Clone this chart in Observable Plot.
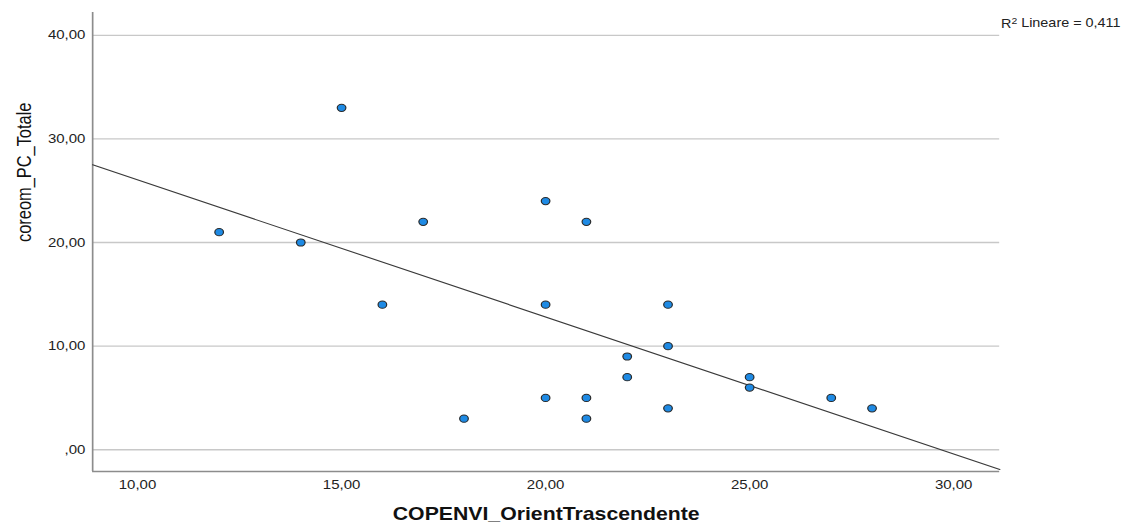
<!DOCTYPE html>
<html>
<head>
<meta charset="utf-8">
<script src="https://cdn.jsdelivr.net/npm/d3@7"></script>
<script src="https://cdn.jsdelivr.net/npm/@observablehq/plot@0.6"></script>
<style>
  html, body { margin: 0; padding: 0; background: white; overflow: hidden; }
  #chart svg { display: block; }
</style>
</head>
<body>
<div id="chart"></div>
<script>
// Data
const xValues = [12, 14, 15, 16, 17, 18, 20, 20, 20, 21, 21, 21, 22, 22, 23, 23, 23, 25, 25, 27, 28];
const yValues = [21, 20, 33, 14, 22, 3, 24, 14, 5, 22, 5, 3, 9, 7, 14, 10, 4, 7, 6, 5, 4];
const xTicks = [10, 15, 20, 25, 30];
const yTicks = [0, 10, 20, 30, 40];
const xDomain = [8.9, 31.13];
const yDomain = [-2.1, 42.2];
const xLabel = "COPENVI_OrientTrascendente";
const yLabel = "coreom_PC_Totale";
const r2Label = "R2 Lineare = 0,411";

const points = xValues.map((x, i) => ({x, y: yValues[i]}));

// least-squares fit from the data, drawn across the whole frame
const mx = d3.mean(xValues), my = d3.mean(yValues);
const sxy = d3.sum(points, d => (d.x - mx) * (d.y - my));
const sxx = d3.sum(points, d => (d.x - mx) ** 2);
const slope = sxy / sxx, intercept = my - slope * mx;
const regLine = xDomain.map(x => ({x, y: intercept + slope * x}));

const fmt = d => {
  let s = d3.format(".2f")(d).replace(".", ",");
  if (s.startsWith("0,")) s = s.slice(1);
  return s;
};

const W = 934, H = 524, OUTW = 1121;

const plot = Plot.plot({
  width: W,
  height: H,
  marginLeft: 76.7,
  marginRight: 101.5,
  marginTop: 12,
  marginBottom: 53,
  x: {domain: xDomain},
  y: {domain: yDomain},
  style: {fontFamily: "'Liberation Sans', Arial, sans-serif", color: "#222", background: "white"},
  marks: [
    Plot.gridY(yTicks, {stroke: "#c8c8c8", strokeOpacity: 1, strokeWidth: 1.3}),
    Plot.ruleX([xDomain[0]], {stroke: "#8c8c8c", strokeWidth: 1.4}),
    Plot.ruleY([yDomain[0]], {stroke: "#8c8c8c", strokeWidth: 1.4}),
    Plot.axisY(yTicks, {tickSize: 0, tickPadding: 6, tickFormat: fmt, fontSize: 12.5, label: null}),
    Plot.axisX(xTicks, {tickSize: 0, tickPadding: 9, tickFormat: fmt, fontSize: 12.5, label: null}),
    Plot.line(regLine, {x: "x", y: "y", stroke: "#3a3a3a", strokeWidth: 1.1}),
    Plot.dot(points, {x: "x", y: "y", r: 3.6, fill: "#1e8ae4", stroke: "#2a2a2a", strokeWidth: 1}),
    Plot.text([xLabel], {text: d => d, frameAnchor: "bottom", lineAnchor: "bottom", dy: 48, fontSize: 17.7, fontWeight: "bold", fill: "#111"}),
    Plot.text([yLabel], {text: d => d, frameAnchor: "left", rotate: -90, lineAnchor: "bottom", dx: -51, fontSize: 16.4, fill: "#111"}),
    Plot.text([r2Label], {text: d => d, frameAnchor: "top-right", textAnchor: "start", lineAnchor: "bottom", dx: 1, dy: 15, fontSize: 12, fill: "#222"})
  ]
});

// superscript the "2" of R2 (text stays real text)
d3.select(plot).selectAll("text").each(function() {
  if (this.textContent === r2Label) {
    const t = d3.select(this);
    t.text(null);
    t.append("tspan").text("R");
    t.append("tspan").attr("dy", "-0.45em").attr("font-size", "0.72em").text("2");
    t.append("tspan").attr("dy", "0.32em").text(" Lineare = 0,411");
  }
});

// reference is horizontally stretched (~1.2x): stretch the drawing the same way
plot.setAttribute("width", OUTW);
plot.setAttribute("height", H);
plot.setAttribute("viewBox", `0 0 ${W} ${H}`);
plot.setAttribute("preserveAspectRatio", "none");
plot.style.width = OUTW + "px";
plot.style.height = H + "px";
plot.style.maxWidth = "none";

document.getElementById("chart").appendChild(plot);
</script>
</body>
</html>
